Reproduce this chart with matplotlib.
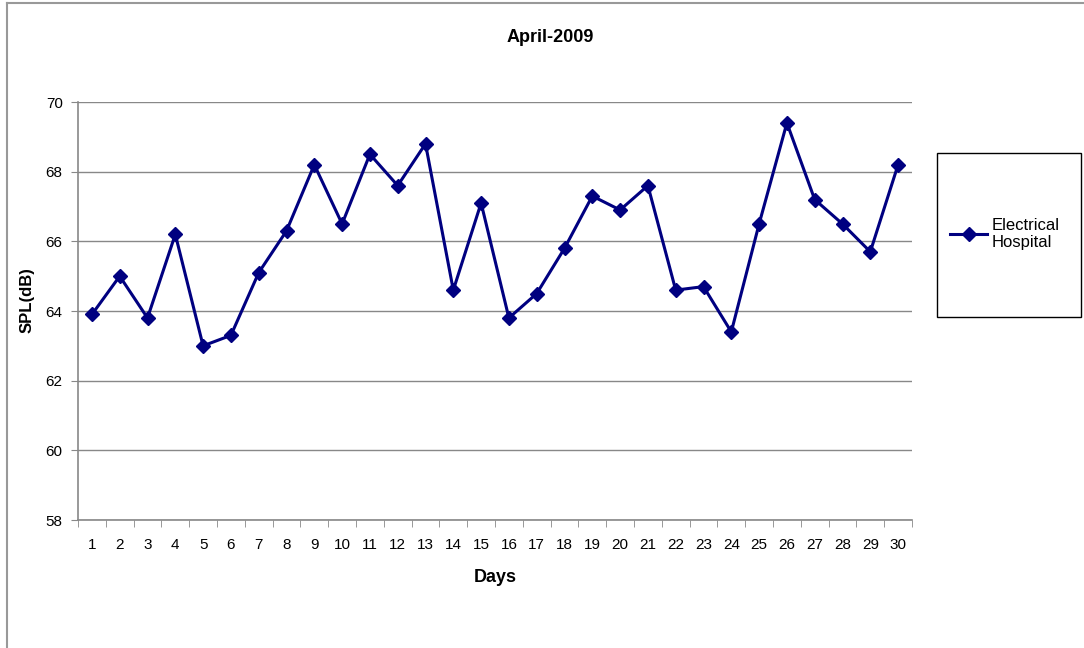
import matplotlib.pyplot as plt
from matplotlib.lines import Line2D
from matplotlib.patches import Rectangle

days = list(range(1, 31))
spl = [63.9, 65.0, 63.8, 66.2, 63.0, 63.3, 65.1, 66.3, 68.2, 66.5,
       68.5, 67.6, 68.8, 64.6, 67.1, 63.8, 64.5, 65.8, 67.3, 66.9,
       67.6, 64.6, 64.7, 63.4, 66.5, 69.4, 67.2, 66.5, 65.7, 68.2]
y_ticks = [58, 60, 62, 64, 66, 68, 70]
series_name = "Electrical\nHospital"

plt.rcParams['font.family'] = ['Liberation Sans', 'DejaVu Sans']

W, H = 1084, 648
fig = plt.figure(figsize=(W / 100, H / 100), dpi=100)

# outer chart frame (top and left edges visible)
fig.add_artist(Line2D([7 / W, 7 / W], [0, 1 - 3 / H], color="#999999", lw=1.5))
fig.add_artist(Line2D([7 / W, 1], [1 - 3 / H, 1 - 3 / H], color="#999999", lw=1.5))

ax = fig.add_axes([78 / W, 1 - 520 / H, (912 - 78) / W, (520 - 102) / H])
ax.plot(days, spl, color="#000080", lw=2.2, marker="D", markersize=7,
        markerfacecolor="#000080", markeredgecolor="#000080")

ax.set_xlim(0.5, 30.5)
ax.set_ylim(58, 70)
ax.set_yticks(y_ticks)
ax.set_xticks(days)
ax.set_xticks([d + 0.5 for d in range(0, 31)], minor=True)
ax.tick_params(axis="x", which="major", length=0, pad=13, labelsize=11)
ax.tick_params(axis="x", which="minor", length=5, color="#888888", direction="out")
ax.tick_params(axis="y", length=5, color="#888888", labelsize=11, pad=6)

ax.grid(axis="y", color="#888888", lw=1)
ax.set_axisbelow(True)
for s in ["top", "right"]:
    ax.spines[s].set_visible(False)
for s in ["left", "bottom"]:
    ax.spines[s].set_color("#888888")
    ax.spines[s].set_linewidth(1.2)

ax.set_xlabel("Days", fontsize=13, fontweight="bold")
ax.xaxis.set_label_coords(0.5, -(578 - 520) / 418, transform=ax.transAxes)
ax.xaxis.label.set_va("center")
ax.set_ylabel("SPL(dB)", fontsize=12, fontweight="bold")
ax.yaxis.set_label_coords(-(78 - 27) / 834, (520 - 300) / 418, transform=ax.transAxes)
ax.yaxis.label.set_va("center")
fig.text(550 / W, 1 - 38 / H, "April-2009", ha="center", va="center",
         fontsize=13, fontweight="bold")

# legend box
fig.add_artist(Rectangle((937 / W, 1 - 317 / H), (1081 - 937) / W, (317 - 153) / H,
                         fill=False, edgecolor="black", lw=1))
handle = Line2D([], [], color="#000080", lw=2.2, marker="D", markersize=7)
fig.legend([handle], [series_name], loc="center left",
           bbox_to_anchor=(942 / W, 1 - 234 / H), frameon=False,
           fontsize=12, handlelength=2.2, handletextpad=0.3, borderpad=0)

plt.savefig("out.png", dpi=100)
